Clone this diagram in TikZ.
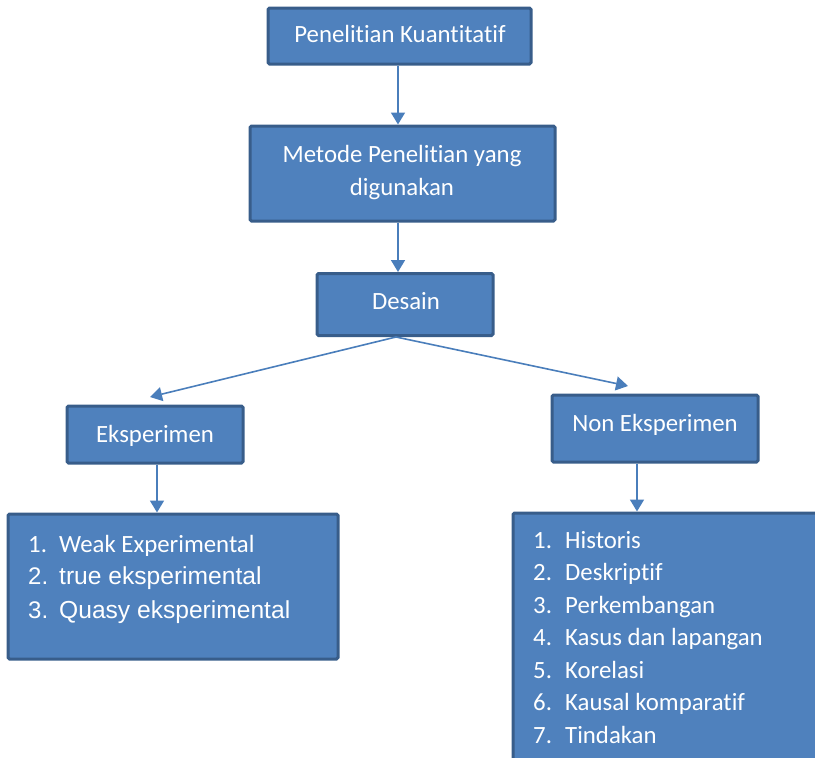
\documentclass[tikz,border=0pt]{standalone}
\usepackage{fontspec}
\setmainfont[RawFeature={-liga;-clig}]{Carlito}
\newfontfamily\arialf{Liberation Sans}
\usetikzlibrary{arrows.meta,calc}
\definecolor{boxfill}{HTML}{4F81BD}
\definecolor{boxline}{HTML}{385D8A}
\definecolor{arrowc}{HTML}{4A7EBB}
\tikzset{
  box/.style={draw=boxline, fill=boxfill, line width=3pt, rounded corners=1.5pt, inner sep=0pt},
  txt/.style={text=white, font=\fontsize{24.8}{33}\selectfont, inner sep=0pt},
  arr/.style={draw=arrowc, line width=1.6pt, -{Triangle[width=14pt,length=12pt]}}
}
\begin{document}
\begin{tikzpicture}[x=1pt,y=-1pt]
\useasboundingbox (0,0) rectangle (815,758);
\clip (0,0) rectangle (815,758);
% boxes
\node[box, minimum width=263pt, minimum height=56pt] (b1) at (399.5,36) {};
\node[box, minimum width=305pt, minimum height=95pt] (b2) at (402.5,173.5) {};
\node[box, minimum width=176pt, minimum height=62pt] (des) at (405,304.5) {};
\node[box, minimum width=176pt, minimum height=57pt] (eks) at (155,434.5) {};
\node[box, minimum width=206pt, minimum height=67pt] (ne) at (655,428.5) {};
\node[box, minimum width=330pt, minimum height=145pt] (ll) at (173,586.5) {};
\node[box, minimum width=320pt, minimum height=270pt] (rl) at (673,648) {};
% texts
\node[txt, anchor=base] (t1) at (400,42) {Penelitian Kuantitatif};
\node[txt, anchor=base] (t2a) at (402,162) {Metode Penelitian yang};
\node[txt, anchor=base] (t2b) at (402,195) {digunakan};
\node[txt, anchor=base] (t3) at (406,309) {Desain};
\node[txt, anchor=base] (t4) at (155,442) {Eksperimen};
\node[txt, anchor=base] (t5) at (655,431) {Non Eksperimen};
% left list
\node[txt, anchor=base west] (l1n) at (28,552) {1.};
\node[txt, anchor=base west] (l1) at (59,552) {Weak Experimental};
\node[txt, anchor=base west] (l2n) at (28,584) {\arialf\fontsize{24}{33}\selectfont 2.};
\node[txt, anchor=base west] (l2) at (59,584) {\arialf\fontsize{24.6}{33}\selectfont true eksperimental};
\node[txt, anchor=base west] (l3n) at (28,618) {\arialf\fontsize{24}{33}\selectfont 3.};
\node[txt, anchor=base west] (l3) at (59,618) {\arialf\fontsize{24.6}{33}\selectfont Quasy eksperimental};
% right list
\foreach \i/\t [count=\k from 0] in {1/Historis,2/Deskriptif,3/Perkembangan,4/Kasus dan lapangan,5/Korelasi,6/Kausal komparatif,7/Tindakan}{
  \node[txt, anchor=base west] (rn\i) at (533,{548+32.5*\k}) {\i.};
  \node[txt, anchor=base west] (r\i) at (565,{548+32.5*\k}) {\t};
}
% connectors
\draw[arr] ([xshift=-1.5pt]b1.south) -- ([xshift=-1.5pt]b1.south |- b2.north);
\draw[arr] ([xshift=-4.5pt]b2.south) -- ([xshift=-4.5pt]b2.south |- des.north);
\coordinate (tipl) at (150,397);
\coordinate (tipr) at (628,386);
\draw[arr] ([xshift=-9pt]des.south) -- (tipl);
\draw[arr] ([xshift=-9pt]des.south) -- (tipr);
\draw[arr] ([xshift=2pt]eks.south) -- ([xshift=2pt]eks.south |- ll.north);
\draw[arr] ([xshift=-18pt]ne.south) -- ([xshift=-18pt]ne.south |- rl.north);
\end{tikzpicture}
\end{document}
